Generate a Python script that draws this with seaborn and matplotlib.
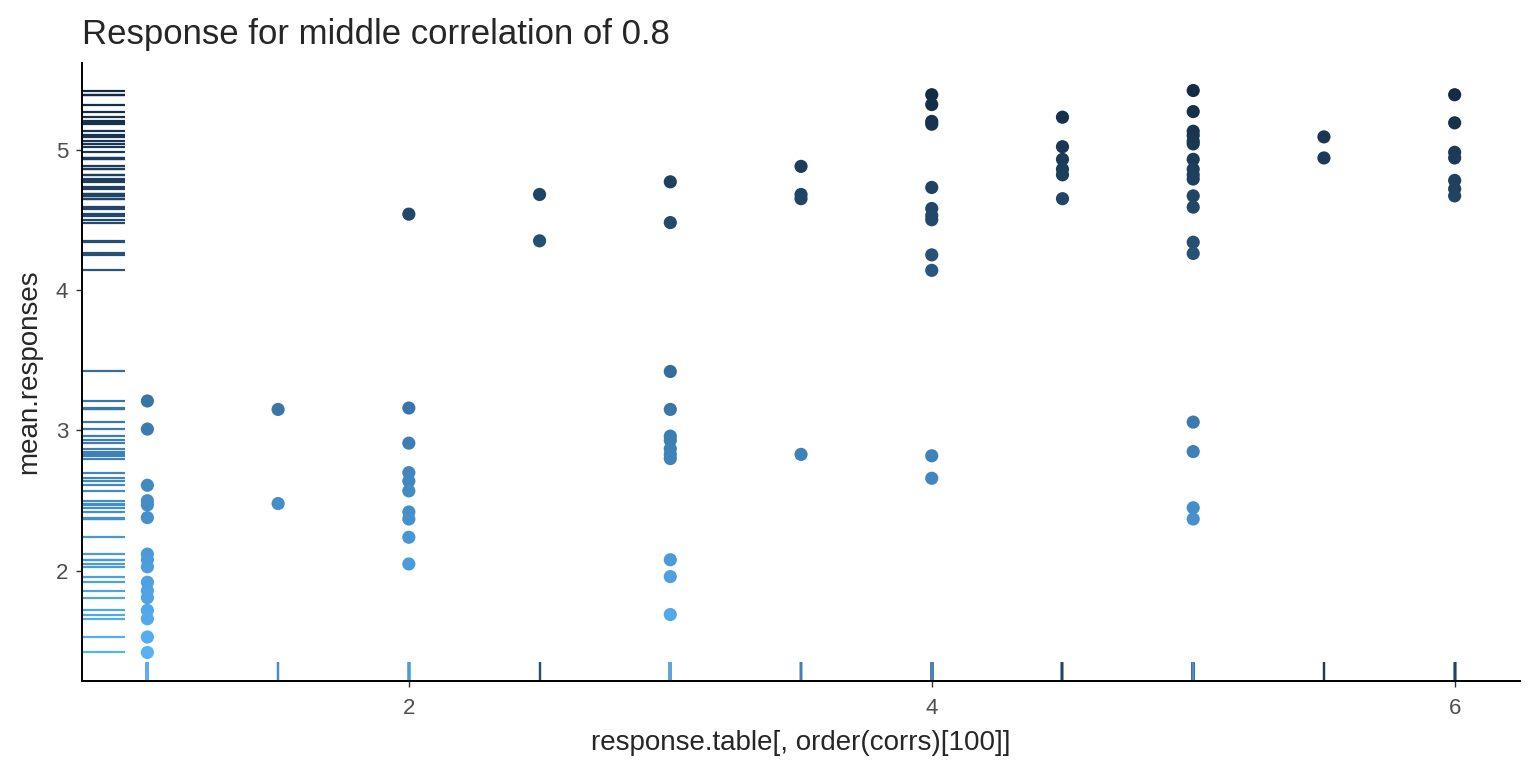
import pandas as pd
import matplotlib
matplotlib.use('Agg')
import matplotlib.pyplot as plt
import seaborn as sns
from matplotlib.colors import LinearSegmentedColormap

# 每个取值对应的 mean.responses
x_levels = [1, 1.5, 2, 2.5, 3, 3.5, 4, 4.5, 5, 5.5, 6]
resp_1 = [3.21, 3.01, 2.61, 2.50, 2.47, 2.38, 2.12, 2.08, 2.03, 1.92, 1.86, 1.81, 1.72, 1.66, 1.53, 1.42]
resp_15 = [3.15, 2.48]
resp_2 = [4.54, 3.16, 2.91, 2.70, 2.64, 2.57, 2.42, 2.37, 2.24, 2.05]
resp_25 = [4.68, 4.35]
resp_3 = [4.77, 4.48, 3.42, 3.15, 2.96, 2.93, 2.87, 2.83, 2.80, 2.08, 1.96, 1.69]
resp_35 = [4.88, 4.68, 4.65, 2.83]
resp_4 = [5.39, 5.32, 5.20, 5.18, 4.73, 4.58, 4.53, 4.50, 4.25, 4.14, 2.82, 2.66]
resp_45 = [5.23, 5.02, 4.93, 4.86, 4.82, 4.65]
resp_5 = [5.42, 5.27, 5.13, 5.10, 5.06, 5.04, 4.93, 4.86, 4.82, 4.79, 4.67, 4.59,
          4.34, 4.26, 3.06, 2.85, 2.45, 2.37]
resp_55 = [5.09, 4.94]
resp_6 = [5.39, 5.19, 4.98, 4.94, 4.78, 4.72, 4.67]

groups = [resp_1, resp_15, resp_2, resp_25, resp_3, resp_35,
          resp_4, resp_45, resp_5, resp_55, resp_6]

xs, ys = [], []
for xv, vals in zip(x_levels, groups):
    xs += [xv] * len(vals)
    ys += vals
df = pd.DataFrame({'x': xs, 'mean.responses': ys})

# ggplot 默认连续色阶（反向：值越大越深）
cmap = LinearSegmentedColormap.from_list('gg', ['#56B1F7', '#132B43'])

sns.set_theme(style='ticks')
plt.rcParams['font.family'] = ['Liberation Sans', 'DejaVu Sans']

fig = plt.figure(figsize=(15.36, 7.68), dpi=100)
ax = fig.add_axes([0.0534, 0.1133, 0.9362, 0.8047])

sns.scatterplot(data=df, x='x', y='mean.responses', hue='mean.responses',
                palette=cmap, s=90, linewidth=0, legend=False, ax=ax, zorder=3)
sns.rugplot(data=df, x='x', y='mean.responses', hue='mean.responses',
            palette=cmap, height=0.03, linewidth=1.6, legend=False,
            expand_margins=False, ax=ax)

ax.set_xlim(0.75, 6.25)
ax.set_ylim(1.217, 5.616)
ax.set_xticks([2, 4, 6])
ax.set_yticks([2, 3, 4, 5])
ax.tick_params(axis='both', labelsize=16, labelcolor='#4D4D4D', color='#333333',
               length=4, width=1.0)
ax.tick_params(axis='x', pad=8)
ax.tick_params(axis='y', pad=6)
for side in ['left', 'bottom']:
    ax.spines[side].set_linewidth(1.4)
    ax.spines[side].set_color('black')
sns.despine(ax=ax)

ax.set_xlabel('response.table[, order(corrs)[100]]', fontsize=20, labelpad=8)
ax.set_ylabel('mean.responses', fontsize=20, labelpad=10)
ax.set_title('Response for middle correlation of 0.8', loc='left', fontsize=25, pad=14)

fig.savefig('out.png', dpi=100, facecolor='white')
